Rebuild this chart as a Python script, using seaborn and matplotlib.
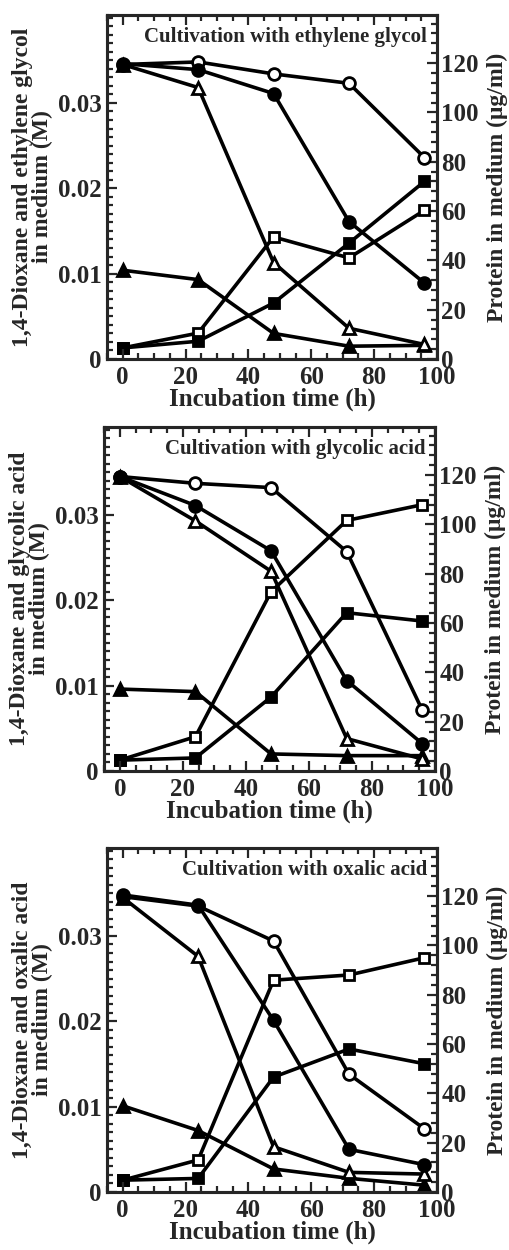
import numpy as np
import pandas as pd
import matplotlib
matplotlib.use("Agg")
import matplotlib.pyplot as plt
from matplotlib.ticker import MultipleLocator
import seaborn as sns

sns.set_style("ticks")
plt.rcParams['font.family'] = ['Liberation Serif', 'DejaVu Serif']
plt.rcParams['font.weight'] = 'bold'
plt.rcParams['axes.labelweight'] = 'bold'

time_h = [0, 24, 48, 72, 96]
titles = ["Cultivation with ethylene glycol",
          "Cultivation with glycolic acid",
          "Cultivation with oxalic acid"]
ylabels = ["1,4-Dioxane and ethylene glycol\nin medium (M)",
           "1,4-Dioxane and glycolic acid\nin medium (M)",
           "1,4-Dioxane and oxalic acid\nin medium (M)"]
right_label = "Protein in medium (μg/ml)"
x_label = "Incubation time (h)"

# Panel 1: ethylene glycol
p1_open_circle = [0.0345, 0.0348, 0.0334, 0.0323, 0.0236]
p1_filled_circle = [0.0346, 0.0339, 0.0311, 0.0161, 0.0089]
p1_open_triangle = [0.0345, 0.0318, 0.0113, 0.0036, 0.0017]
p1_filled_triangle = [0.0104, 0.0093, 0.0030, 0.0015, 0.0016]
p1_open_square = [4.5, 10.5, 49.5, 41.0, 60.3]
p1_filled_square = [4.5, 7.2, 22.7, 47.0, 72.0]

# Panel 2: glycolic acid
p2_open_circle = [0.0345, 0.0337, 0.0332, 0.0257, 0.0071]
p2_filled_circle = [0.0345, 0.0311, 0.0258, 0.0106, 0.0032]
p2_open_triangle = [0.0345, 0.0293, 0.0234, 0.0038, 0.0014]
p2_filled_triangle = [0.0096, 0.0093, 0.0020, 0.0018, 0.0018]
p2_open_square = [4.4, 13.9, 72.7, 101.6, 108.0]
p2_filled_square = [4.4, 5.3, 30.0, 64.2, 60.8]

# Panel 3: oxalic acid
p3_open_circle = [0.0346, 0.0335, 0.0294, 0.0138, 0.0074]
p3_filled_circle = [0.0348, 0.0336, 0.0201, 0.0050, 0.0032]
p3_open_triangle = [0.0345, 0.0276, 0.0053, 0.0023, 0.0021]
p3_filled_triangle = [0.0101, 0.0072, 0.0027, 0.0016, 0.0008]
p3_open_square = [4.8, 13.0, 85.9, 88.0, 95.0]
p3_filled_square = [4.8, 5.5, 46.6, 58.0, 52.0]

panels = [
    (p1_open_circle, p1_filled_circle, p1_open_triangle, p1_filled_triangle, p1_open_square, p1_filled_square),
    (p2_open_circle, p2_filled_circle, p2_open_triangle, p2_filled_triangle, p2_open_square, p2_filled_square),
    (p3_open_circle, p3_filled_circle, p3_open_triangle, p3_filled_triangle, p3_open_square, p3_filled_square),
]

W, H = 509, 1250
fig = plt.figure(figsize=(W / 100, H / 100), dpi=100)
rects = [(107, 15, 437, 359), (104, 427, 435, 771), (107, 848, 437, 1192)]

lw = 2.6
ms = 8.5
mew = 2.0

def draw(ax, y, marker, filled):
    sns.lineplot(x=time_h, y=y, ax=ax, color='black', linewidth=lw, marker=marker,
                 markersize=ms if marker != 's' else ms - 0.8,
                 markerfacecolor='black' if filled else 'white',
                 markeredgecolor='black', markeredgewidth=mew, legend=False)

for i, (oc, fc, ot, ft, osq, fsq) in enumerate(panels):
    l, t, r, b = rects[i]
    ax = fig.add_axes([l / W, 1 - b / H, (r - l) / W, (b - t) / H])
    ax2 = ax.twinx()
    # protein on right axis
    draw(ax2, osq, 's', False)
    draw(ax2, fsq, 's', True)
    # left axis
    draw(ax, ft, '^', True)
    draw(ax, ot, '^', False)
    draw(ax, oc, 'o', False)
    draw(ax, fc, 'o', True)
    ax.set_zorder(ax2.get_zorder() + 1)
    ax.patch.set_visible(False)

    ax.set_xlim(-5, 100)
    ax.set_ylim(0, 0.0403)
    ax2.set_ylim(0, 139.5)

    ax.xaxis.set_major_locator(MultipleLocator(20))
    ax.xaxis.set_minor_locator(MultipleLocator(5))
    ax.yaxis.set_major_locator(MultipleLocator(0.01))
    ax.yaxis.set_minor_locator(MultipleLocator(0.001))
    ax2.yaxis.set_major_locator(MultipleLocator(20))
    ax2.yaxis.set_minor_locator(MultipleLocator(4))

    ax.set_yticks([0, 0.01, 0.02, 0.03])
    ax.set_yticklabels(['0', '0.01', '0.02', '0.03'])

    ax.tick_params(axis='x', which='both', direction='in', top=True, bottom=True,
                   labelsize=18, width=1.6, pad=5)
    ax.tick_params(axis='y', which='both', direction='in', left=True, right=False,
                   labelsize=18, width=1.6, pad=4)
    ax.tick_params(which='major', length=7)
    ax.tick_params(which='minor', length=4)
    ax2.tick_params(axis='y', which='both', direction='in', right=True,
                    labelsize=18, width=1.6, pad=3)
    ax2.tick_params(which='major', length=7)
    ax2.tick_params(which='minor', length=4)

    for a in (ax, ax2):
        for s in a.spines.values():
            s.set_linewidth(2.2)
            s.set_visible(True)
        for lab in a.get_xticklabels() + a.get_yticklabels():
            lab.set_fontweight('bold')

    ax.set_xlabel(x_label, fontsize=18, fontweight='bold', labelpad=-1)
    ax.set_ylabel(ylabels[i], fontsize=17, fontweight='bold', linespacing=0.95, labelpad=3)
    ax2.set_ylabel(right_label, fontsize=17, fontweight='bold', labelpad=6)
    ax.text(0.97, 0.935, titles[i], transform=ax.transAxes, ha='right', va='center',
            fontsize=15, fontweight='bold')

fig.savefig("out.png", dpi=100)
